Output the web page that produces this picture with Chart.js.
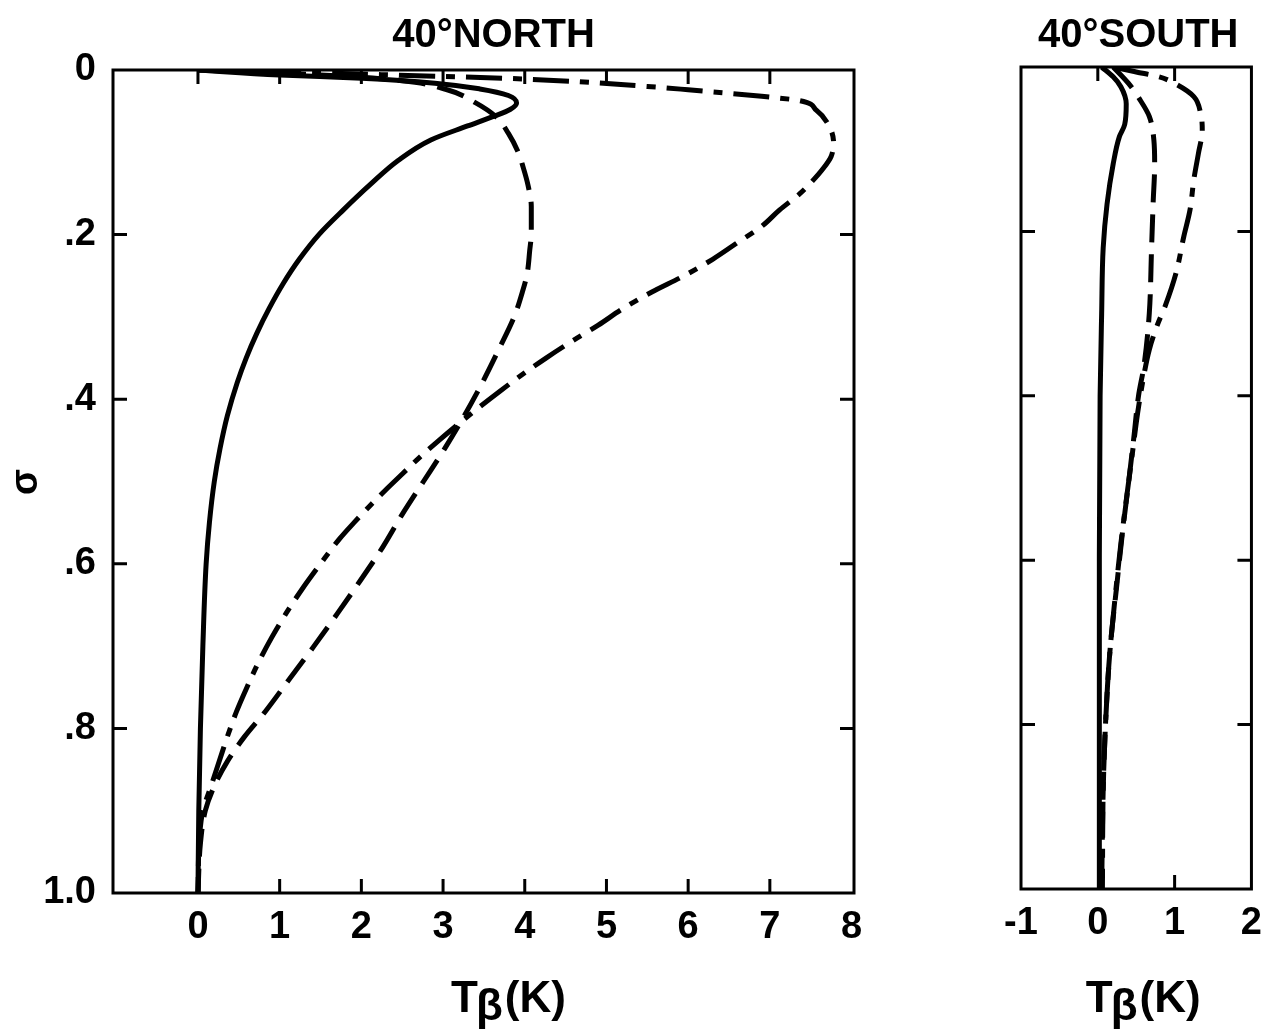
<!DOCTYPE html>
<html lang="en">
<head>
<meta charset="UTF-8" />
<title>T beta profiles 40N / 40S</title>
<script src="https://cdn.jsdelivr.net/npm/chart.js"></script>
<style>
  body { margin: 0; background: #fff; width: 1274px; height: 1030px; position: relative; overflow: hidden; }
  .box { position: absolute; top: 0; height: 1030px; }
  #northBox { left: 0; width: 900px; }
  #southBox { left: 920px; width: 354px; }
</style>
</head>
<body>
<div class="box" id="northBox"><canvas id="north"></canvas></div>
<div class="box" id="southBox"><canvas id="south"></canvas></div>
<script>
// sigma levels and T_beta (K) values
const yTickValues = [0, 0.2, 0.4, 0.6, 0.8, 1.0];
const yTickLabels = ["0", ".2", ".4", ".6", ".8", "1.0"];
const northXTicks = [0, 1, 2, 3, 4, 5, 6, 7, 8];
const southXTicks = [-1, 0, 1, 2];

// 40 North
const northSolidX = [0, 1.0, 2.0, 2.9, 3.45, 3.8, 3.9, 3.82, 3.6, 3.3, 2.85, 2.45, 2.1, 1.78, 1.48, 1.24, 1.04, 0.87, 0.72, 0.59, 0.48, 0.36, 0.27, 0.2, 0.14, 0.1, 0.06, 0.03, 0.01, 0];
const northSolidS = [0, 0.006, 0.010, 0.016, 0.023, 0.031, 0.040, 0.048, 0.057, 0.068, 0.085, 0.11, 0.14, 0.17, 0.20, 0.23, 0.26, 0.29, 0.32, 0.35, 0.38, 0.42, 0.46, 0.50, 0.55, 0.60, 0.70, 0.80, 0.90, 1.0];

const northDashX = [0, 1.5, 2.5, 3.05, 3.4, 3.65, 3.8, 3.92, 3.98, 4.04, 4.08, 4.08, 4.06, 4.03, 3.97, 3.87, 3.68, 3.48, 3.26, 3.02, 2.76, 2.5, 2.26, 1.99, 1.71, 1.42, 1.12, 0.82, 0.57, 0.36, 0.2, 0.09, 0.03, 0];
const northDashS = [0, 0.006, 0.013, 0.024, 0.04, 0.057, 0.077, 0.10, 0.118, 0.14, 0.166, 0.198, 0.22, 0.247, 0.27, 0.30, 0.34, 0.38, 0.42, 0.46, 0.50, 0.54, 0.58, 0.62, 0.66, 0.70, 0.74, 0.78, 0.81, 0.84, 0.87, 0.90, 0.94, 1.0];

const northDotX = [0, 2.0, 4.0, 5.5, 6.0, 6.9, 7.35, 7.57, 7.73, 7.78, 7.75, 7.65, 7.52, 7.37, 7.12, 6.9, 6.6, 6.3, 5.95, 5.55, 5.2, 4.9, 4.57, 4.26, 3.97, 3.70, 3.44, 3.19, 2.95, 2.72, 2.51, 2.3, 2.1, 1.91, 1.73, 1.5, 1.28, 1.08, 0.9, 0.74, 0.6, 0.47, 0.36, 0.26, 0.16, 0.06, 0.02, 0];
const northDotS = [0, 0.005, 0.011, 0.02, 0.024, 0.032, 0.037, 0.049, 0.069, 0.088, 0.105, 0.12, 0.135, 0.15, 0.17, 0.19, 0.21, 0.23, 0.25, 0.27, 0.29, 0.31, 0.33, 0.35, 0.37, 0.39, 0.41, 0.43, 0.45, 0.47, 0.49, 0.51, 0.53, 0.55, 0.57, 0.60, 0.63, 0.66, 0.69, 0.72, 0.75, 0.78, 0.81, 0.84, 0.87, 0.90, 0.93, 1.0];

// 40 South
const southSolidX = [0.05, 0.2, 0.3, 0.37, 0.35, 0.28, 0.2, 0.12, 0.07, 0.05, 0.03, 0.02, 0.02, 0.02];
const southSolidS = [0, 0.012, 0.024, 0.045, 0.07, 0.085, 0.118, 0.167, 0.22, 0.30, 0.4, 0.6, 0.8, 1.0];

const southDashX = [0.2, 0.4, 0.55, 0.67, 0.73, 0.74, 0.72, 0.7, 0.67, 0.6, 0.53, 0.47, 0.4, 0.32, 0.25, 0.16, 0.1, 0.07, 0.05];
const southDashS = [0, 0.02, 0.04, 0.06, 0.089, 0.118, 0.166, 0.22, 0.30, 0.364, 0.40, 0.45, 0.506, 0.567, 0.628, 0.708, 0.80, 0.88, 1.0];

const southDotX = [0.2, 0.5, 0.8, 1.0, 1.25, 1.34, 1.36, 1.31, 1.25, 1.2, 1.12, 1.02, 0.88, 0.77, 0.67, 0.59, 0.52, 0.45, 0.38, 0.3, 0.22, 0.15, 0.1, 0.07, 0.06];
const southDotS = [0, 0.006, 0.012, 0.02, 0.036, 0.057, 0.077, 0.105, 0.137, 0.174, 0.206, 0.25, 0.29, 0.315, 0.344, 0.38, 0.42, 0.47, 0.52, 0.58, 0.65, 0.72, 0.8, 0.88, 1.0];

const FONT = "'Liberation Sans', Arial, sans-serif";

function pts(xs, ys) {
  return xs.map((x, i) => ({ x: x, y: ys[i] }));
}

// profiles are single valued in sigma, so spline along the y (sigma) axis
function line(xs, ys, dash) {
  return {
    data: pts(xs, ys),
    borderColor: "#000",
    borderWidth: 5,
    borderDash: dash,
    pointRadius: 0,
    cubicInterpolationMode: "monotone",
    fill: false,
  };
}

// frame, inward ticks and the text around each panel
const framePlugin = {
  id: "frame",
  afterDatasetsDraw(chart, args, opts) {
    const { ctx, chartArea: a, scales } = chart;
    ctx.save();
    ctx.strokeStyle = "#000";
    ctx.fillStyle = "#000";
    ctx.lineWidth = 3;
    ctx.setLineDash([]);
    ctx.strokeRect(a.left, a.top, a.right - a.left, a.bottom - a.top);
    const len = 14;
    ctx.beginPath();
    opts.topTicks.forEach((v) => {
      const x = scales.x.getPixelForValue(v);
      ctx.moveTo(x, a.top);
      ctx.lineTo(x, a.top + len);
    });
    opts.bottomTicks.forEach((v) => {
      const x = scales.x.getPixelForValue(v);
      ctx.moveTo(x, a.bottom);
      ctx.lineTo(x, a.bottom - len);
    });
    opts.sideTicks.forEach((v) => {
      const y = scales.y.getPixelForValue(v);
      ctx.moveTo(a.left, y);
      ctx.lineTo(a.left + len, y);
      ctx.moveTo(a.right, y);
      ctx.lineTo(a.right - len, y);
    });
    ctx.stroke();

    const cx = (a.left + a.right) / 2;
    // panel title
    ctx.font = "bold 40px " + FONT;
    ctx.textAlign = "center";
    ctx.textBaseline = "alphabetic";
    ctx.fillText(opts.title, cx + opts.titleShift, 47);

    // x title: T with lowered beta, then (K)
    ctx.font = "bold 44px " + FONT;
    ctx.textAlign = "left";
    const wT = ctx.measureText("T").width;
    const wB = ctx.measureText("\u03B2").width;
    const wK = ctx.measureText("(K)").width;
    let x0 = cx + opts.xTitleShift - (wT + wB + wK) / 2;
    ctx.fillText("T", x0, 1012);
    ctx.fillText("\u03B2", x0 + wT - 2, 1020);
    ctx.fillText("(K)", x0 + wT + wB, 1012);

    if (opts.sigma) {
      ctx.font = "bold 38px " + FONT;
      ctx.translate(27, 482);
      ctx.rotate(-Math.PI / 2);
      ctx.textAlign = "center";
      ctx.textBaseline = "middle";
      ctx.fillText("\u03C3", 0, 0);
    }
    ctx.restore();
  },
};

function makeChart(id, cfg) {
  return new Chart(document.getElementById(id).getContext("2d"), {
    type: "line",
    data: { datasets: cfg.datasets },
    options: {
      indexAxis: "y",
      responsive: true,
      maintainAspectRatio: false,
      animation: false,
      layout: { padding: { top: cfg.top, right: cfg.right, left: 0, bottom: 0 } },
      plugins: {
        legend: { display: false },
        tooltip: { enabled: false },
        frame: cfg.frame,
      },
      scales: {
        x: {
          type: "linear",
          min: cfg.xMin,
          max: cfg.xMax,
          grid: { display: false, drawTicks: false },
          border: { display: false },
          afterBuildTicks: (s) => { s.ticks = cfg.xTicks.map((v) => ({ value: v })); },
          afterFit: (s) => { s.height = cfg.xHeight; },
          ticks: {
            color: "#000",
            padding: 12,
            maxRotation: 0,
            autoSkip: false,
            font: { family: FONT, size: 38, weight: "bold" },
            callback: (v) => String(v),
          },
        },
        y: {
          type: "linear",
          min: 0,
          max: 1,
          reverse: true,
          grid: { display: false, drawTicks: false },
          border: { display: false },
          afterBuildTicks: (s) => { s.ticks = yTickValues.map((v) => ({ value: v })); },
          afterFit: (s) => { s.width = cfg.yWidth; },
          ticks: {
            display: cfg.yLabels,
            color: "#000",
            padding: 17,
            autoSkip: false,
            font: { family: FONT, size: 38, weight: "bold" },
            callback: (v, i) => yTickLabels[i],
          },
        },
      },
    },
    plugins: [framePlugin],
  });
}

makeChart("north", {
  datasets: [
    line(northSolidX, northSolidS, []),
    line(northDashX, northDashS, [28, 12]),
    line(northDotX, northDotS, [36, 11, 9, 11]),
  ],
  top: 70,
  right: 46,
  xMin: -1.04,
  xMax: 8.03,
  xTicks: northXTicks,
  xHeight: 137,
  yWidth: 113,
  yLabels: true,
  frame: {
    title: "40\u00B0NORTH",
    titleShift: 10,
    xTitleShift: 25,
    sigma: true,
    topTicks: [0, 1, 2, 3, 4, 5, 6, 7],
    bottomTicks: [1, 2, 3, 4, 5, 6, 7],
    sideTicks: [0.2, 0.4, 0.6, 0.8],
  },
});

makeChart("south", {
  datasets: [
    line(southSolidX, southSolidS, []),
    line(southDashX, southDashS, [28, 12]),
    line(southDotX, southDotS, [36, 11, 9, 11]),
  ],
  top: 67,
  right: 7,
  xMin: -1,
  xMax: 2,
  xTicks: southXTicks,
  xHeight: 141,
  yWidth: 101,
  yLabels: false,
  frame: {
    title: "40\u00B0SOUTH",
    titleShift: 2,
    xTitleShift: 7,
    sigma: false,
    topTicks: [0, 1],
    bottomTicks: [1],
    sideTicks: [0.2, 0.4, 0.6, 0.8],
  },
});
</script>
</body>
</html>
